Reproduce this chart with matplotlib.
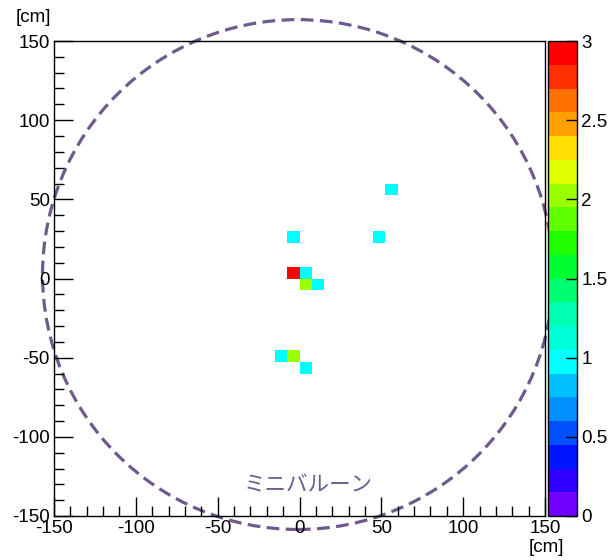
import numpy as np
import matplotlib
matplotlib.use('Agg')
import matplotlib.pyplot as plt
from matplotlib.colors import ListedColormap, Normalize
from matplotlib.patches import Ellipse
from matplotlib.ticker import MultipleLocator

# filled bins: lower-left corner (cm) and counts, bin size 7.5 cm
bin_x = [-7.5, 0.0, 0.0, 7.5, -7.5, 45.0, 52.5, -15.0, -7.5, 0.0]
bin_y = [0.0, 0.0, -7.5, -7.5, 22.5, 22.5, 52.5, -52.5, -52.5, -60.0]
counts = [3, 1, 2, 1, 1, 1, 1, 1, 2, 1]
bin_w = 7.5

# ROOT-like rainbow palette, 20 contour levels
palette = ['#7000ff', '#3000ff', '#0015ff', '#0050ff', '#0090ff', '#00c0ff',
           '#00ffff', '#00ffd8', '#00ffb0', '#00ff70', '#00ff30', '#20ff00',
           '#60ff00', '#9aff00', '#e0ff00', '#ffe000', '#ffa000', '#ff7000',
           '#ff3000', '#ff0000']

edges = np.arange(-150, 150 + bin_w, bin_w)
H = np.full((len(edges) - 1, len(edges) - 1), np.nan)
for x, y, c in zip(bin_x, bin_y, counts):
    i = int(round((x + 150) / bin_w))
    j = int(round((y + 150) / bin_w))
    H[j, i] = c

plt.rcParams['font.family'] = ['Liberation Sans', 'DejaVu Sans']
plt.rcParams['font.size'] = 13
plt.rcParams['axes.unicode_minus'] = False

fig = plt.figure(figsize=(6.08, 5.6), dpi=100)
ax = fig.add_axes([54 / 608, 44 / 560, 491 / 608, 475 / 560])
cax = fig.add_axes([548 / 608, 44 / 560, 29 / 608, 475 / 560])

cmap = ListedColormap(palette)
norm = Normalize(vmin=0, vmax=3)
mesh = ax.pcolormesh(edges, edges, np.ma.masked_invalid(H), cmap=cmap, norm=norm)

# dashed "mini balloon" outline
ell = Ellipse((-1, 2.5), 312, 322, fill=False, edgecolor='#6e5a8c',
              linestyle=(0, (4, 2)), linewidth=2.3, clip_on=False)
ax.add_patch(ell)
ax.text(5, -131, 'ミニバルーン', color='#6e5a8c', fontsize=15.5, ha='center',
        va='center', family=['Noto Sans CJK JP', 'DejaVu Sans'])

ax.set_xlim(-150, 150)
ax.set_ylim(-150, 150)
ax.xaxis.set_major_locator(MultipleLocator(50))
ax.xaxis.set_minor_locator(MultipleLocator(10))
ax.yaxis.set_major_locator(MultipleLocator(50))
ax.yaxis.set_minor_locator(MultipleLocator(10))
ax.tick_params(which='both', direction='in', top=False, right=False)
ax.tick_params(which='major', length=14, width=1, labelsize=13.5, pad=3)
ax.tick_params(which='minor', length=7, width=1)
for s in ax.spines.values():
    s.set_linewidth(1)

fig.text(33 / 608, 1 - 18 / 560, '[cm]', ha='center', va='center', fontsize=13.5)
fig.text(546 / 608, 1 - 547 / 560, '[cm]', ha='center', va='center', fontsize=13.5)

cb = fig.colorbar(mesh, cax=cax, ticks=[0, 0.5, 1, 1.5, 2, 2.5, 3])
cb.ax.set_yticklabels(['0', '0.5', '1', '1.5', '2', '2.5', '3'])
cb.ax.tick_params(direction='in', length=8, width=1, labelsize=13.5, pad=3)
cb.outline.set_linewidth(1)

fig.savefig('out.png', dpi=100)
